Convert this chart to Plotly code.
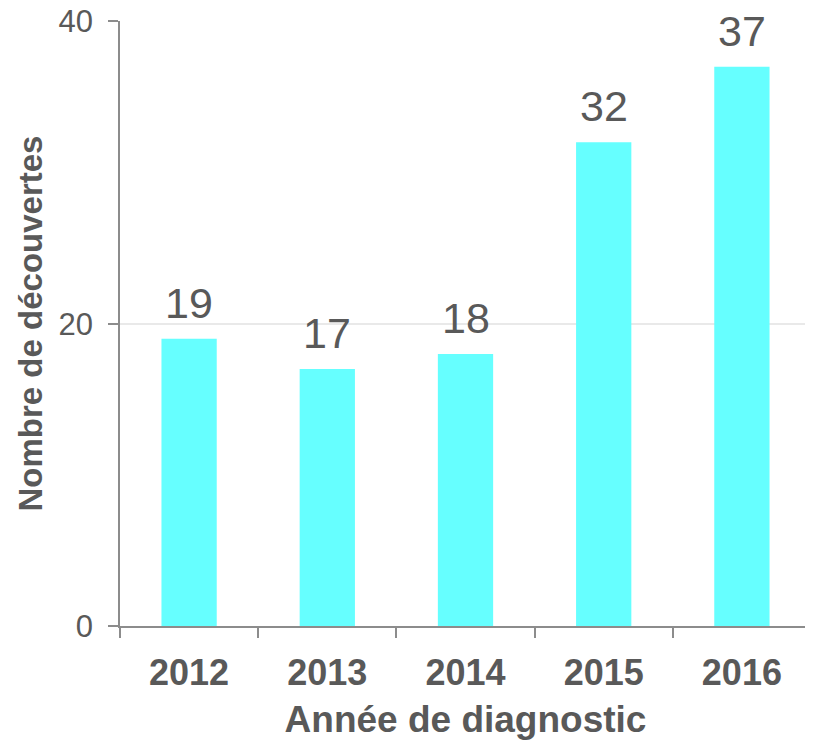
import plotly.graph_objects as go

years = ["2012", "2013", "2014", "2015", "2016"]
counts = [19, 17, 18, 32, 37]
y_ticks = [0, 20, 40]

TEXT = "#595959"
FONT = "Liberation Sans, Arial, sans-serif"

fig = go.Figure()
fig.add_trace(go.Bar(
    x=years, y=counts,
    marker=dict(color="#66FFFF", line=dict(width=0)),
    hoverinfo="x+y",
))

for i, c in enumerate(counts):
    fig.add_annotation(
        x=i, y=c, xref="x", yref="y", text=str(c), showarrow=False,
        yanchor="bottom", yshift=10,
        font=dict(family=FONT, size=43, color=TEXT),
    )

# page body has an 8px default margin, so the figure is sized to fit the window
fig.update_layout(
    width=805, height=732,
    margin=dict(l=112, r=2, t=13, b=114),
    plot_bgcolor="white", paper_bgcolor="white",
    bargap=0.6,
    showlegend=False,
    font=dict(family=FONT, color=TEXT),
)

fig.update_xaxes(
    type="category",
    categoryorder="array", categoryarray=years,
    range=[-0.5, len(years) - 0.5],
    tickangle=0,
    automargin=False,
    tickson="boundaries",
    ticks="outside", ticklen=10, tickcolor="#8c8c8c", tickwidth=1.5,
    showline=True, linecolor="#8c8c8c", linewidth=1.5,
    showgrid=False,
    tickfont=dict(family=FONT, size=36, color=TEXT, weight="bold"),
    ticklabelstandoff=14,
    ticklabeloverflow="allow",
    title=dict(text="<b>Année de diagnostic</b>",
               font=dict(family=FONT, size=37, color=TEXT), standoff=15),
)

fig.update_yaxes(
    range=[0, 40.03],
    tickvals=y_ticks,
    automargin=False,
    ticks="outside", ticklen=10, tickcolor="#8c8c8c", tickwidth=1.5,
    showline=True, linecolor="#8c8c8c", linewidth=1.5,
    showgrid=True, gridcolor="#e9e9e9", gridwidth=1.5,
    zeroline=False,
    tickfont=dict(family=FONT, size=31, color=TEXT),
    ticklabelstandoff=9,
    ticklabeloverflow="allow",
    title=dict(text="<b>Nombre de découvertes</b>",
               font=dict(family=FONT, size=33, color=TEXT), standoff=6),
)

fig.write_html("out.html")
